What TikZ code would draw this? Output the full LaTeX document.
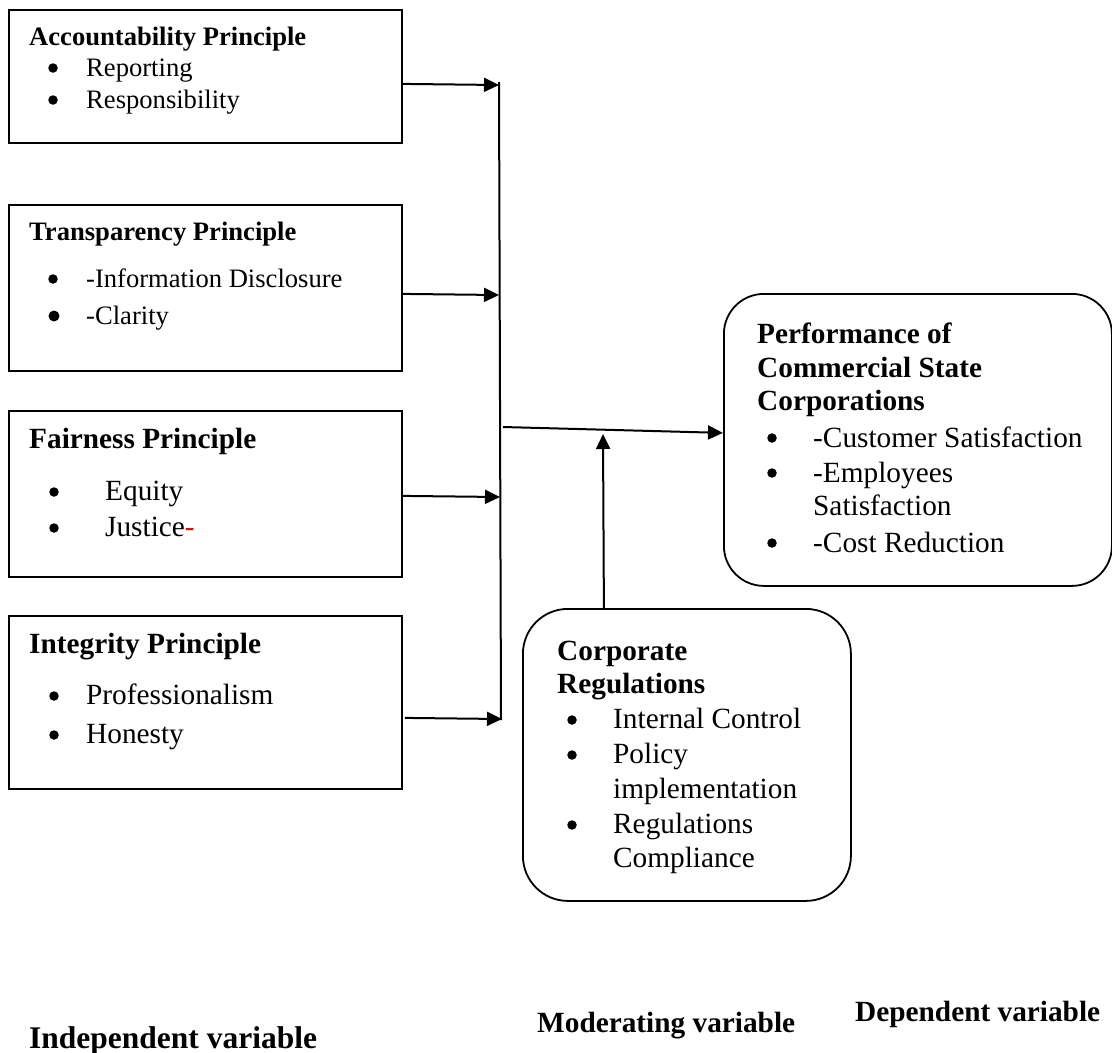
\documentclass[tikz,border=0pt]{standalone}
\usepackage{fontspec}
\setmainfont{Liberation Serif}
\usetikzlibrary{arrows.meta}
\begin{document}
\begin{tikzpicture}[x=1pt,y=-1pt,
  sqbox/.style={draw, line width=1.8pt, inner sep=0pt, anchor=north west},
  rndbox/.style={draw, line width=1.8pt, inner sep=0pt, anchor=north west},
  arr/.style={line width=2pt, -{Triangle[length=15pt,width=14pt]}},
  bus/.style={line width=2pt},
  dot/.style={circle, fill, inner sep=0pt, minimum size=9.5pt},
  bigdot/.style={circle, fill, inner sep=0pt, minimum size=11pt},
  txt/.style={anchor=base west, inner sep=0pt},
  smallt/.style={txt, font=\fontsize{26.6}{30}\selectfont},
  bigt/.style={txt, font=\fontsize{29.3}{34}\selectfont},
  smallh/.style={txt, font=\fontsize{26.6}{30}\selectfont\bfseries},
  bigh/.style={txt, font=\fontsize{29.3}{34}\selectfont\bfseries}
]
\useasboundingbox (0,0) rectangle (1112,1053);

% ---- boxes
\node[sqbox, minimum width=393pt, minimum height=133pt] (b1) at (8,9) {};
\node[sqbox, minimum width=393pt, minimum height=166pt] (b2) at (8,204) {};
\node[sqbox, minimum width=393pt, minimum height=166pt] (b3) at (8,410) {};
\node[sqbox, minimum width=393pt, minimum height=173pt] (b4) at (8,615) {};
\node[rndbox, rounded corners=40pt, minimum width=388pt, minimum height=292pt] (perf) at (723,293) {};
\node[rndbox, rounded corners=45pt, minimum width=328pt, minimum height=292pt] (corp) at (522,608) {};

% ---- box 1
\node[smallh] (t1) at (29,45) {Accountability Principle};
\node[dot] (t1a) at (53,68) {};
\node[smallt] (t1b) at (86,76) {Reporting};
\node[dot] (t1c) at (53,100) {};
\node[smallt] (t1d) at (86,108) {Responsibility};

% ---- box 2
\node[smallh] (t2) at (29,240) {Transparency Principle};
\node[dot] (t2a) at (53,279) {};
\node[smallt] (t2b) at (86,287) {-Information Disclosure};
\node[bigdot] (t2c) at (54,316) {};
\node[smallt] (t2d) at (86,324) {-Clarity};

% ---- box 3
\node[bigh] (t3) at (29,448) {Fairness Principle};
\node[dot] (t3a) at (54,492) {};
\node[bigt] (t3b) at (105,500) {Equity};
\node[dot] (t3c) at (54,528) {};
\node[bigt] (t3d) at (105,536) {Justice\textcolor{red}{-}};

% ---- box 4
\node[bigh] (t4) at (29,653) {Integrity Principle};
\node[dot] (t4a) at (54,696) {};
\node[bigt] (t4b) at (86,704) {Professionalism};
\node[dot] (t4c) at (54,735) {};
\node[bigt] (t4d) at (86,743) {Honesty};

% ---- performance box
\node[bigh] (p1) at (757,343) {Performance of};
\node[bigh] (p2) at (757,377) {Commercial State};
\node[bigh] (p3) at (757,410) {Corporations};
\node[dot] (p4) at (772,438) {};
\node[bigt] (p5) at (813,447) {-Customer Satisfaction};
\node[dot] (p6) at (772,473) {};
\node[bigt] (p7) at (813,482) {-Employees};
\node[bigt] (p8) at (813,515) {Satisfaction};
\node[dot] (p9) at (772,543) {};
\node[bigt] (p10) at (813,552) {-Cost Reduction};

% ---- corporate box
\node[bigh] (c1) at (557,660) {Corporate};
\node[bigh] (c2) at (557,693) {Regulations};
\node[dot] (c3) at (572,720) {};
\node[bigt] (c4) at (613,728) {Internal Control};
\node[dot] (c5) at (572,755) {};
\node[bigt] (c6) at (613,763) {Policy};
\node[bigt] (c7) at (613,798) {implementation};
\node[dot] (c8) at (572,825) {};
\node[bigt] (c9) at (613,833) {Regulations};
\node[bigt] (c10) at (613,867) {Compliance};

% ---- bottom labels
\node[txt, font=\fontsize{31.5}{36}\selectfont\bfseries] (lind) at (29,1048) {Independent variable};
\node[txt, font=\fontsize{29.3}{34}\selectfont\bfseries] (lmod) at (537,1032) {Moderating variable};
\node[txt, font=\fontsize{29.3}{34}\selectfont\bfseries] (ldep) at (855,1021) {Dependent variable};

% ---- connectors
\coordinate (vtop) at (499,82);
\coordinate (vbot) at (501,720);
\coordinate (j1) at (499,85);
\coordinate (j2) at (499,295);
\coordinate (j3) at (500,497);
\coordinate (j4) at (502,719);
\coordinate (mstart) at (503,427);
\coordinate (mtip) at (603,434);

\draw[bus] (vtop) -- (vbot);
\draw[arr] ([yshift=-7.5pt]b1.east) -- (j1);
\draw[arr] ([yshift=-6pt]b2.east) -- (j2);
\draw[arr] ([yshift=-2pt]b3.east) -- (j3);
\draw[arr] ([xshift=2pt,yshift=-15.5pt]b4.east) -- (j4);
\draw[arr] (mstart) -- ([yshift=7pt]perf.west);
\draw[arr] ([xshift=-83pt]corp.north) -- (mtip);
\end{tikzpicture}
\end{document}
